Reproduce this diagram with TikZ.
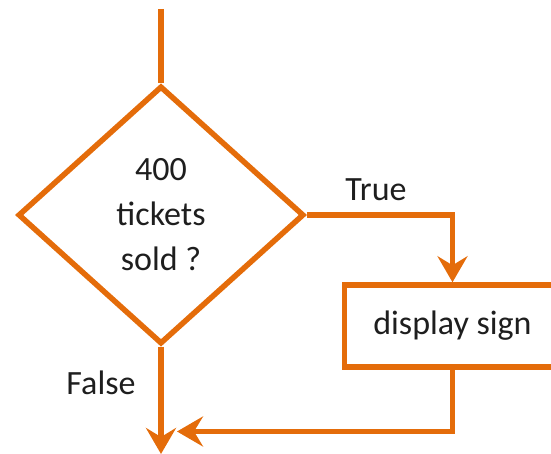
\documentclass[tikz,border=0pt]{standalone}
\usepackage{fontspec}
\setmainfont{Carlito}
\usetikzlibrary{shapes.geometric,arrows.meta}
\definecolor{flow}{RGB}{228,108,10}
\definecolor{ink}{RGB}{30,30,30}
\tikzset{
  flowline/.style={draw=flow, line width=5.5pt, line join=miter},
  arrowline/.style={flowline, -{Stealth[length=26pt,width=30pt,inset=9pt]}},
  decision/.style={diamond, flowline, inner sep=0pt, minimum width=286pt, minimum height=258pt, align=center, text=ink, font=\fontsize{34}{45}\selectfont},
  process/.style={rectangle, flowline, minimum width=216pt, minimum height=82pt, text=ink, font=\fontsize{34}{40}\selectfont},
  lbl/.style={text=ink, font=\fontsize{34}{40}\selectfont, inner sep=0pt}
}
\begin{document}
\begin{tikzpicture}[x=1pt,y=1pt]
\clip (0,0) rectangle (551,454);
\useasboundingbox (0,0) rectangle (551,454);
\node[decision] (dec) at (161,239) {400\\tickets\\sold ?};
\node[process] (box) at (452.5,128) {display sign};
\coordinate (top) at (161,445);
\coordinate (bot) at (161,0);
\coordinate (join) at (177,22.5);
\node[lbl] (true) at (376,264) {True};
\node[lbl] (false) at (101,71) {False};
\draw[flowline] (top) -- (dec.north);
\draw[arrowline] (dec.east) -| (box.north);
\draw[arrowline] (dec.south) -- (bot);
\draw[arrowline] (box.south) |- (join);
\end{tikzpicture}
\end{document}
